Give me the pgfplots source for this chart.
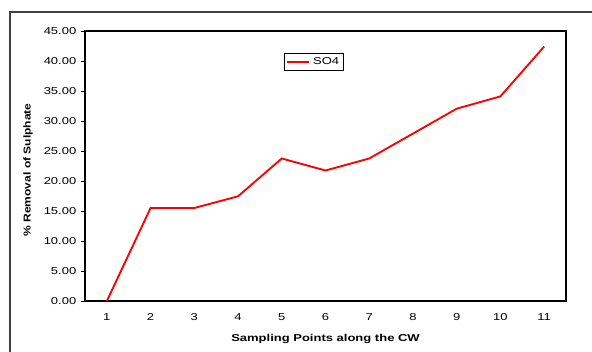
\documentclass[border=0pt]{standalone}
\usepackage{pgfplots}
\pgfplotsset{compat=1.18}
\usepackage{fontspec}
\setmainfont{Liberation Sans}
\newfontfamily\widefont[FakeStretch=1.3]{Liberation Sans}
\newfontfamily\ylabfont[FakeStretch=1.2]{Liberation Sans}
\definecolor{soline}{RGB}{255,0,0}
\begin{document}
\begin{tikzpicture}[x=0.75pt,y=0.75pt]
\useasboundingbox (-85,-51) rectangle (507,301);
% outer chart frame: only its left and top edges lie on the page
\draw[line width=0.9pt, draw=black!75] (-75,-51) -- (-75,289) -- (507,289);
\begin{axis}[
  at={(0,0)}, anchor=south west,
  scale only axis,
  width=360.75pt, height=202.5pt,
  xmin=0.5, xmax=11.5,
  ymin=0, ymax=45,
  xtick={1,...,11},
  minor xtick={0.5,1.5,...,11.5},
  ytick={0,5,...,45},
  xtick pos=bottom, ytick pos=left,
  yticklabel={\pgfmathprintnumber[fixed,fixed zerofill,precision=2]{\tick}},
  /pgf/number format/assume math mode=true,
  tick align=outside,
  xtick style={draw=none},
  minor x tick style={black, line width=0.6pt},
  minor tick length=3pt,
  ytick style={black, line width=0.6pt},
  major tick length=3pt,
  axis line style={black, line width=1.1pt},
  tick label style={font=\widefont\fontsize{7.5}{8}\selectfont},
  xticklabel style={yshift=-3pt},
  xlabel={\bfseries Sampling Points along the CW},
  ylabel={\bfseries \% Removal of Sulphate},
  xlabel style={font=\widefont\fontsize{7.5}{8}\selectfont, yshift=-3pt},
  ylabel style={font=\ylabfont\fontsize{7.5}{8}\selectfont, yshift=1.5pt, xshift=-3pt},
  legend style={at={(0.414,0.918)}, anchor=north west,
    font=\widefont\fontsize{7.5}{8}\selectfont, draw=black, line width=0.5pt,
    inner sep=1pt, row sep=0pt},
  legend cell align=left,
  clip=false,
]
\addplot[color=soline, line width=1.4pt, mark=none] coordinates {
  (1,0.00) (2,15.50) (3,15.50) (4,17.45) (5,23.75) (6,21.75)
  (7,23.75) (8,27.90) (9,32.05) (10,34.10) (11,42.40)
};
\addlegendentry{SO4}
\end{axis}
\end{tikzpicture}
\end{document}
